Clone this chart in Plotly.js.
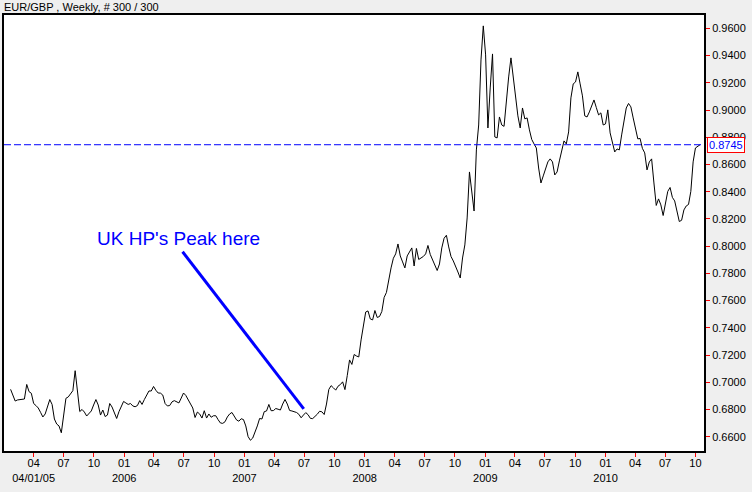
<!DOCTYPE html>
<html>
<head>
<meta charset="utf-8">
<script src="https://cdn.plot.ly/plotly-3.0.1.min.js"></script>
<style>
  html, body { margin: 0; padding: 0; background: #EFEFEF; }
  #chart { width: 752px; height: 492px; }
</style>
</head>
<body>
<div id="chart"></div>
<script>
// ---- Data (weekly EUR/GBP closes) ----
const startDate = '2005-01-21';   // first weekly bar
const weekCount = 300;
const closes = [
  0.6948, 0.6906, 0.6862, 0.6870, 0.6873, 0.6877, 0.6877, 0.6984, 0.6931, 0.6919,
  0.6844, 0.6829, 0.6811, 0.6779, 0.6745, 0.6767, 0.6822, 0.6873, 0.6837, 0.6730,
  0.6693, 0.6679, 0.6629, 0.6752, 0.6882, 0.6892, 0.6912, 0.6938, 0.7085, 0.6906,
  0.6785, 0.6800, 0.6781, 0.6752, 0.6770, 0.6789, 0.6833, 0.6873, 0.6833, 0.6759,
  0.6796, 0.6748, 0.6759, 0.6844, 0.6818, 0.6778, 0.6734, 0.6784, 0.6826, 0.6859,
  0.6848, 0.6837, 0.6844, 0.6826, 0.6820, 0.6829, 0.6865, 0.6837, 0.6873, 0.6910,
  0.6936, 0.6936, 0.6969, 0.6941, 0.6921, 0.6920, 0.6906, 0.6844, 0.6826, 0.6829,
  0.6856, 0.6865, 0.6859, 0.6848, 0.6884, 0.6921, 0.6903, 0.6870, 0.6840, 0.6811,
  0.6741, 0.6781, 0.6767, 0.6737, 0.6791, 0.6737, 0.6767, 0.6743, 0.6754, 0.6754,
  0.6725, 0.6701, 0.6698, 0.6710, 0.6745, 0.6767, 0.6778, 0.6745, 0.6723, 0.6714,
  0.6732, 0.6726, 0.6679, 0.6601, 0.6574, 0.6590, 0.6629, 0.6679, 0.6734, 0.6730,
  0.6784, 0.6789, 0.6837, 0.6791, 0.6792, 0.6807, 0.6802, 0.6796, 0.6840, 0.6874,
  0.6840, 0.6793, 0.6789, 0.6786, 0.6778, 0.6765, 0.6739, 0.6759, 0.6777, 0.6762,
  0.6735, 0.6733, 0.6747, 0.6765, 0.6787, 0.6783, 0.6763, 0.6840, 0.6947, 0.6975,
  0.6959, 0.6942, 0.6971, 0.6983, 0.7003, 0.6946, 0.7049, 0.7164, 0.7131, 0.7204,
  0.7193, 0.7186, 0.7311, 0.7410, 0.7516, 0.7524, 0.7465, 0.7458, 0.7527, 0.7476,
  0.7483, 0.7520, 0.7623, 0.7660, 0.7755, 0.7840, 0.7911, 0.7943, 0.8016, 0.7928,
  0.7884, 0.7840, 0.7928, 0.7957, 0.7987, 0.7854, 0.7983, 0.7902, 0.7913, 0.7924,
  0.7943, 0.8005, 0.7939, 0.7902, 0.7865, 0.7821, 0.7869, 0.7987, 0.8058, 0.8080,
  0.7994, 0.7924, 0.7891, 0.7854, 0.7810, 0.7766, 0.7913, 0.8009, 0.8207, 0.8545,
  0.8413, 0.8258, 0.8707, 0.8890, 0.9368, 0.9618, 0.9405, 0.8868, 0.9162, 0.9412,
  0.8802, 0.8795, 0.8949, 0.8890, 0.8880, 0.9074, 0.9243, 0.9383, 0.9243, 0.9096,
  0.8957, 0.8868, 0.9015, 0.8935, 0.8942, 0.8854, 0.8784, 0.8751, 0.8721, 0.8574,
  0.8464, 0.8516, 0.8567, 0.8619, 0.8641, 0.8619, 0.8523, 0.8545, 0.8626, 0.8699,
  0.8773, 0.8751, 0.8839, 0.9089, 0.9192, 0.9206, 0.9280, 0.9192, 0.9104, 0.8957,
  0.8949, 0.8986, 0.9037, 0.9074, 0.9019, 0.8964, 0.8979, 0.8890, 0.8898, 0.9001,
  0.8832, 0.8765, 0.8692, 0.8714, 0.8707, 0.8817, 0.8935, 0.9015, 0.9048, 0.9023,
  0.8942, 0.8854, 0.8788, 0.8791, 0.8718, 0.8685, 0.8560, 0.8619, 0.8641, 0.8464,
  0.8299, 0.8347, 0.8303, 0.8225, 0.8328, 0.8402, 0.8431, 0.8358, 0.8332, 0.8266,
  0.8181, 0.8190, 0.8266, 0.8295, 0.8306, 0.8402, 0.8619, 0.8721, 0.8732, 0.8745
];
const lastClose = 0.8745;

const tickDates = [
  '2005-04-01','2005-07-01','2005-10-01',
  '2006-01-01','2006-04-01','2006-07-01','2006-10-01',
  '2007-01-01','2007-04-01','2007-07-01','2007-10-01',
  '2008-01-01','2008-04-01','2008-07-01','2008-10-01',
  '2009-01-01','2009-04-01','2009-07-01','2009-10-01',
  '2010-01-01','2010-04-01','2010-07-01','2010-10-01'
];
const tickLabels = [
  '04<br>04/01/05','07','10',
  '01<br>2006','04','07','10',
  '01<br>2007','04','07','10',
  '01<br>2008','04','07','10',
  '01<br>2009','04','07','10',
  '01<br>2010','04','07','10'
];

const chartTitle = 'EUR/GBP , Weekly, # 300 / 300';
const noteText = "UK HP's Peak here";
const noteLine = { x0: '2006-06-27', y0: 0.7959, x1: '2007-06-30', y1: 0.6804 };

// ---- Build weekly dates ----
const dates = [];
{
  const t0 = Date.parse(startDate + 'T00:00:00Z');
  for (let i = 0; i < weekCount; i++) {
    dates.push(new Date(t0 + i * 7 * 86400000).toISOString().slice(0, 10));
  }
}

const FONT = 'Arial, "Liberation Sans", sans-serif';

const trace = {
  type: 'scatter',
  mode: 'lines',
  x: dates,
  y: closes,
  line: { color: '#000000', width: 1 },
  hoverinfo: 'skip',
  showlegend: false
};

const layout = {
  width: 752,
  height: 492,
  margin: { l: 4, r: 48, t: 15, b: 41, pad: 0 },
  paper_bgcolor: '#EFEFEF',
  plot_bgcolor: '#FFFFFF',
  font: { family: FONT, size: 11, color: '#000000' },
  title: {
    text: chartTitle,
    font: { family: FONT, size: 11, color: '#000000' },
    xref: 'paper', x: 0, xanchor: 'left',
    yref: 'container', y: 1 - 7 / 492, yanchor: 'middle',
    pad: { t: 0, b: 0, l: 0, r: 0 }
  },
  showlegend: false,
  xaxis: {
    type: 'date',
    range: ['2005-01-01', '2010-10-27'],
    tickmode: 'array',
    tickvals: tickDates,
    ticktext: tickLabels,
    ticks: 'outside',
    ticklen: 4,
    tickwidth: 1,
    tickcolor: '#FF0000',
    ticklabelstandoff: -3,
    showgrid: false,
    zeroline: false,
    showline: true,
    linecolor: '#000000',
    linewidth: 2,
    mirror: true,
    tickfont: { family: FONT, size: 11, color: '#000000' },
    fixedrange: true
  },
  yaxis: {
    side: 'right',
    range: [0.6495, 0.9698],
    tickmode: 'linear',
    tick0: 0.66,
    dtick: 0.02,
    tickformat: '.4f',
    ticks: 'outside',
    ticklen: 4,
    tickwidth: 1,
    tickcolor: '#FF0000',
    showgrid: false,
    zeroline: false,
    showline: true,
    linecolor: '#000000',
    linewidth: 2,
    mirror: true,
    tickfont: { family: FONT, size: 11, color: '#000000' },
    fixedrange: true
  },
  shapes: [
    {
      type: 'line', xref: 'paper', yref: 'y',
      x0: 0, x1: 1, y0: lastClose, y1: lastClose,
      line: { color: '#0000FF', width: 1, dash: '7px,3px' }
    },
    {
      type: 'line', xref: 'x', yref: 'y',
      x0: noteLine.x0, y0: noteLine.y0, x1: noteLine.x1, y1: noteLine.y1,
      line: { color: '#0000FF', width: 3 }
    }
  ],
  annotations: [
    {
      xref: 'paper', yref: 'y', x: 1, y: lastClose,
      xanchor: 'left', yanchor: 'middle', xshift: 3,
      text: lastClose.toFixed(4),
      showarrow: false,
      font: { family: FONT, size: 11, color: '#0000FF' },
      bgcolor: '#FFFFFF',
      bordercolor: '#FF0000',
      borderwidth: 1,
      borderpad: 1
    },
    {
      xref: 'paper', yref: 'paper', x: (178 - 4) / 700, y: (451 - 238) / 436,
      xanchor: 'center', yanchor: 'middle',
      text: noteText,
      showarrow: false,
      font: { family: FONT, size: 19, color: '#0000FF' }
    }
  ]
};

Plotly.newPlot('chart', [trace], layout, { staticPlot: true, displayModeBar: false });
</script>
</body>
</html>
